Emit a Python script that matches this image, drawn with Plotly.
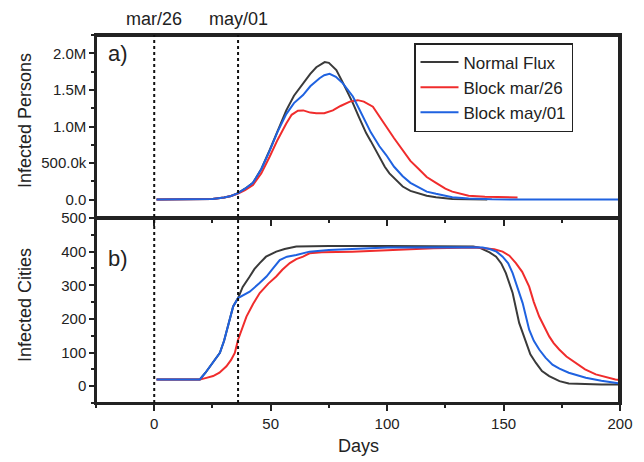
import plotly.graph_objects as go

# ---------------- data ----------------
# a) Infected persons (millions)
normal_days_p = [1, 10, 20, 25, 30, 33, 36, 39, 42.4, 46, 49.6, 53, 56.7, 60, 63.9, 67, 69.6, 72, 73.2, 75, 78.2, 81, 85.3, 88, 91, 93, 96.7, 99, 101, 104, 106.7, 110, 113.9, 117, 121, 125, 128, 135, 143]
normal_vals_p = [0.002, 0.002, 0.004, 0.01, 0.03, 0.05, 0.09, 0.15, 0.23, 0.42, 0.68, 0.95, 1.22, 1.42, 1.59, 1.72, 1.81, 1.86, 1.88, 1.87, 1.77, 1.60, 1.32, 1.12, 0.91, 0.80, 0.59, 0.45, 0.36, 0.26, 0.18, 0.12, 0.08, 0.055, 0.035, 0.02, 0.01, 0.005, 0.003]

mar_days_p = [1, 10, 20, 25, 30, 33, 36, 39, 42.4, 46, 49.6, 53, 56.7, 59, 61.7, 64, 67, 69.6, 73, 76.7, 80, 84, 87.4, 90, 93.9, 96.7, 99.6, 103, 106.7, 110, 113.9, 117, 121, 125, 128, 135, 142, 150, 156]
mar_vals_p = [0.002, 0.002, 0.004, 0.01, 0.03, 0.05, 0.085, 0.13, 0.2, 0.36, 0.59, 0.82, 1.04, 1.16, 1.215, 1.22, 1.19, 1.18, 1.18, 1.22, 1.28, 1.34, 1.36, 1.34, 1.27, 1.13, 1.0, 0.84, 0.68, 0.53, 0.41, 0.31, 0.23, 0.15, 0.11, 0.054, 0.04, 0.035, 0.03]

may_days_p = [1, 10, 20, 25, 30, 33, 36, 39, 42.4, 46, 49.6, 53, 56.7, 60, 63.9, 67, 71, 73, 75.3, 78, 81, 83, 85.3, 88, 91, 93, 96.7, 99.6, 103, 106.7, 110, 113.9, 117, 121, 128, 135, 145, 160, 180, 200]
may_vals_p = [0.002, 0.002, 0.004, 0.01, 0.03, 0.05, 0.09, 0.15, 0.23, 0.42, 0.67, 0.93, 1.17, 1.32, 1.43, 1.55, 1.66, 1.70, 1.72, 1.68, 1.59, 1.51, 1.41, 1.24, 1.04, 0.92, 0.73, 0.61, 0.45, 0.32, 0.23, 0.16, 0.11, 0.08, 0.035, 0.015, 0.005, 0.003, 0.002, 0.002]

# b) Infected cities
normal_days_c = [1, 19.6, 22, 24, 26, 28.2, 30, 31.7, 33.9, 36, 38, 41, 43, 45.3, 48, 52.4, 56, 61, 66.7, 75, 100, 137, 139.6, 142, 144, 146.8, 149, 151, 153.9, 156.7, 159.6, 161.5, 163.9, 166.5, 169.6, 174, 178, 185, 192, 200]
normal_vals_c = [20, 20, 40, 59, 78, 99, 135, 178, 237, 262, 295, 326, 348, 366, 385, 400, 408, 415, 416, 417, 417, 415, 412, 405, 398, 385, 365, 336, 277, 188, 129, 95, 69, 45, 30, 15, 8, 6, 5, 5]

mar_days_c = [1, 19.6, 22, 25.3, 28, 31, 33, 34.6, 36, 37.8, 39.6, 42.5, 45.3, 49, 52.4, 55, 58.2, 61, 63.9, 66.7, 72, 85, 100, 120, 138, 142, 146, 149.6, 152.5, 155.3, 158, 161, 163, 165.3, 167.5, 169.6, 171.5, 173.9, 177, 181, 185, 189.6, 194, 198, 200]
mar_vals_c = [20, 20, 24, 30, 40, 59, 78, 99, 138, 175, 207, 245, 277, 305, 326, 346, 366, 378, 385, 395, 398, 400, 405, 410, 412, 410, 407, 400, 388, 366, 340, 296, 250, 207, 175, 148, 128, 109, 88, 69, 50, 35, 26, 20, 18]

may_days_c = [1, 19.6, 22, 24, 26, 28.2, 30, 31.7, 33.9, 36, 41, 45, 48.2, 51, 53.9, 57, 61, 66.7, 75, 90, 100, 137, 141, 144, 147, 149.6, 152, 153.9, 156, 158.2, 161, 163, 165.3, 168, 171, 174, 178, 185.3, 192, 198, 200]
may_vals_c = [20, 20, 40, 59, 78, 99, 135, 178, 237, 262, 281, 305, 326, 350, 375, 385, 390, 400, 405, 409, 412, 413, 412, 408, 400, 385, 365, 336, 295, 247, 168, 135, 109, 85, 64, 52, 40, 25, 16, 10, 8]

series_names = ["Normal Flux", "Block mar/26", "Block may/01"]
block_days = [0, 36]
block_labels = ["mar/26", "may/01"]

persons_tickvals = [0, 500000, 1000000, 1500000, 2000000]
persons_ticktext = ["0.0", "500.0k", "1.0M", "1.5M", "2.0M"]
cities_tickvals = [0, 100, 200, 300, 400, 500]
days_tickvals = [0, 50, 100, 150, 200]

# ---------------- figure ----------------
FONT = "Arial, Liberation Sans, sans-serif"
colors = ["#3a3a3a", "#f02c2c", "#1f62e0"]
AX = "#222222"

fig = go.Figure()

persons = [(normal_days_p, normal_vals_p), (mar_days_p, mar_vals_p), (may_days_p, may_vals_p)]
cities = [(normal_days_c, normal_vals_c), (mar_days_c, mar_vals_c), (may_days_c, may_vals_c)]

for i, (d, v) in enumerate(persons):
    fig.add_trace(go.Scatter(x=d, y=[val * 1e6 for val in v], mode="lines", name=series_names[i],
                             line=dict(color=colors[i], width=2), xaxis="x2", yaxis="y2",
                             legendrank=i + 1))
for i, (d, v) in enumerate(cities):
    fig.add_trace(go.Scatter(x=d, y=v, mode="lines", name=series_names[i], showlegend=False,
                             line=dict(color=colors[i], width=2), xaxis="x", yaxis="y"))

XR = [-25, 200]
YP = [-250000, 2250000]
YC = [-50, 500]
split = 185 / 368

tickfont = dict(family=FONT, size=15, color=AX)


def xax(**kw):
    return dict(range=XR, autorange=False, showline=True, linecolor=AX, linewidth=1.5,
                showgrid=False, zeroline=False, ticks="outside", ticklen=6, tickwidth=1.5, tickcolor=AX,
                tickvals=days_tickvals, mirror=True,
                minor=dict(ticks="outside", ticklen=3, tickwidth=1.5, tickcolor=AX, dtick=25, tick0=0), **kw)


def yax(rng, tickvals, mdtick, **kw):
    return dict(range=rng, autorange=False, showline=True, linecolor=AX, linewidth=1.5,
                showgrid=False, zeroline=False, ticks="outside", ticklen=5, tickwidth=1.5, tickcolor=AX,
                tickvals=tickvals, mirror=True,
                minor=dict(ticks="outside", ticklen=3, tickwidth=1.5, tickcolor=AX, dtick=mdtick, tick0=0), **kw)


fig.update_layout(
    width=644, height=462,
    margin=dict(l=96, r=24, t=35, b=59),
    paper_bgcolor="white", plot_bgcolor="rgba(0,0,0,0)",
    font=dict(family=FONT, color=AX),
    xaxis=xax(anchor="y", tickfont=tickfont, showticklabels=True),
    xaxis2=xax(anchor="y2", showticklabels=False),
    yaxis=yax(YC, cities_tickvals, 50, domain=[0, split], anchor="x", tickfont=tickfont),
    yaxis2=yax(YP, persons_tickvals, 250000, domain=[split, 1], anchor="x2",
               ticktext=persons_ticktext, tickfont=tickfont),
    legend=dict(x=(414 - 96) / 524, y=1 - (43 - 35) / 368, xanchor="left", yanchor="top",
                bgcolor="white", bordercolor=AX, borderwidth=1.5,
                font=dict(family=FONT, size=17, color=AX), itemwidth=38, tracegroupgap=0),
    showlegend=True,
)

# plot frame, inset by one pixel so the top and right edges are surely visible
fig.add_shape(type="rect", xref="paper", yref="paper", x0=0, x1=1 - 1 / 524, y0=0, y1=1 - 1 / 368,
              line=dict(color=AX, width=2), fillcolor="rgba(0,0,0,0)", layer="above")

# dotted vertical lines and date labels
for d, lab in zip(block_days, block_labels):
    fig.add_shape(type="line", xref="x", yref="paper", x0=d, x1=d, y0=0, y1=1,
                  line=dict(color="#111111", width=2, dash="dot"))
    fig.add_annotation(text=lab, xref="x", yref="paper", x=d, y=1 + (35 - 19) / 368,
                       xanchor="center", yanchor="middle", showarrow=False,
                       font=dict(family=FONT, size=18, color=AX))

# panel labels
fig.add_annotation(text="a)", xref="paper", yref="paper", x=(106 - 96) / 524, y=1 - (53 - 35) / 368,
                   xanchor="left", yanchor="middle", showarrow=False, font=dict(family=FONT, size=22, color=AX))
fig.add_annotation(text="b)", xref="paper", yref="paper", x=(106 - 96) / 524, y=1 - (258 - 35) / 368,
                   xanchor="left", yanchor="middle", showarrow=False, font=dict(family=FONT, size=22, color=AX))

# axis titles
fig.add_annotation(text="Infected Persons", xref="paper", yref="paper", x=(25 - 96) / 524,
                   y=1 - (121 - 35) / 368, textangle=-90, xanchor="center", yanchor="middle",
                   showarrow=False, font=dict(family=FONT, size=18, color=AX))
fig.add_annotation(text="Infected Cities", xref="paper", yref="paper", x=(25 - 96) / 524,
                   y=1 - (305 - 35) / 368, textangle=-90, xanchor="center", yanchor="middle",
                   showarrow=False, font=dict(family=FONT, size=18, color=AX))
fig.add_annotation(text="Days", xref="paper", yref="paper", x=0.5, y=-(446 - 403) / 368,
                   xanchor="center", yanchor="middle", showarrow=False,
                   font=dict(family=FONT, size=18, color=AX))

fig.write_html("out.html", config={"displayModeBar": False},
               post_script="document.body.style.margin='0';document.body.style.padding='0';")
